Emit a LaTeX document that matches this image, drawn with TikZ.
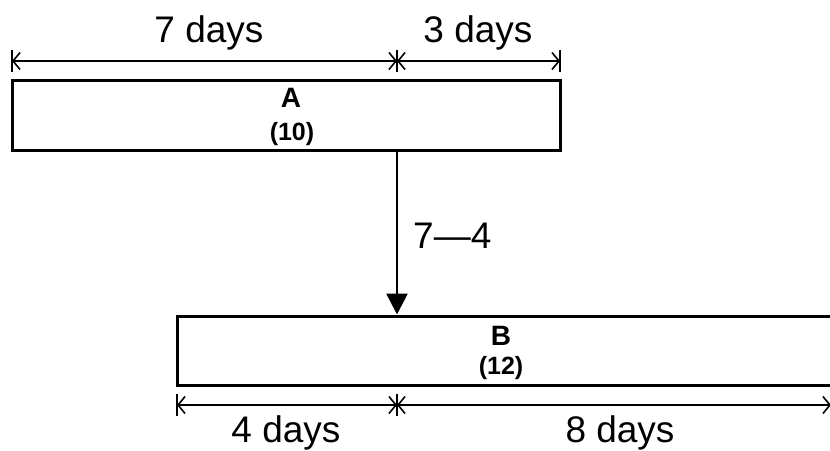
\documentclass[tikz,border=0pt]{standalone}
\usepackage{fontspec}
\setmainfont{Liberation Sans}
\usetikzlibrary{arrows.meta}
\tikzset{
  box/.style={draw=black, line width=3pt, fill=white, rectangle, inner sep=0pt},
  dimline/.style={line width=1.6pt, black,
    arrows={Straight Barb[length=7pt,width=17pt,line width=1.6pt]-Straight Barb[length=7pt,width=17pt,line width=1.6pt]}},
  dimbar/.style={line width=1.6pt, black},
  daytext/.style={anchor=base, inner sep=0pt, font=\fontsize{37}{44}\selectfont},
  bigletter/.style={anchor=base, inner sep=0pt, font=\fontsize{28}{32}\selectfont\bfseries},
  smallnum/.style={anchor=base, inner sep=0pt, font=\fontsize{25}{29}\selectfont\bfseries},
  link/.style={line width=2.8pt, arrows={-Triangle[length=21pt,width=21pt]}}
}
\begin{document}
\begin{tikzpicture}[x=1pt,y=-1pt]
\useasboundingbox (0,0) rectangle (830,450);
% boxes
\node[box, minimum width=548pt, minimum height=70pt] (A) at (286,115) {};
\node[box, minimum width=663pt, minimum height=69pt] (B) at (508.5,350.5) {};
% box texts
\node[bigletter] (Aname) at (291,107) {A};
\node[smallnum] (Adur) at (292,140) {(10)};
\node[bigletter] (Bname) at (501,345) {B};
\node[smallnum] (Bdur) at (501,374) {(12)};
% dimension points
\coordinate (dA1) at (12,61);
\coordinate (dAm) at (397,61);
\coordinate (dA2) at (560,61);
\coordinate (dB1) at (177,405);
\coordinate (dBm) at (397,405);
\coordinate (dB2) at (831,405);
\coordinate (mid) at (397,0);
\draw[dimline] (dA1) -- (dAm);
\draw[dimline] (dAm) -- (dA2);
\draw[dimline] (dB1) -- (dBm);
\draw[dimline] (dBm) -- (dB2);
\foreach \p in {dA1,dAm,dA2,dB1,dBm,dB2}
  \draw[dimbar] (\p) ++(0,-11) -- ++(0,22);
% dimension labels
\node[daytext] (t7) at (209,42) {7 days};
\node[daytext] (t3) at (478,42) {3 days};
\node[daytext] (t4) at (286,442) {4 days};
\node[daytext] (t8) at (620,442) {8 days};
% lag arrow
\draw[link] (A.south -| mid) -- (B.north -| mid);
\node[daytext, anchor=base west] (lag) at (413,248) {7—4};
\end{tikzpicture}
\end{document}
